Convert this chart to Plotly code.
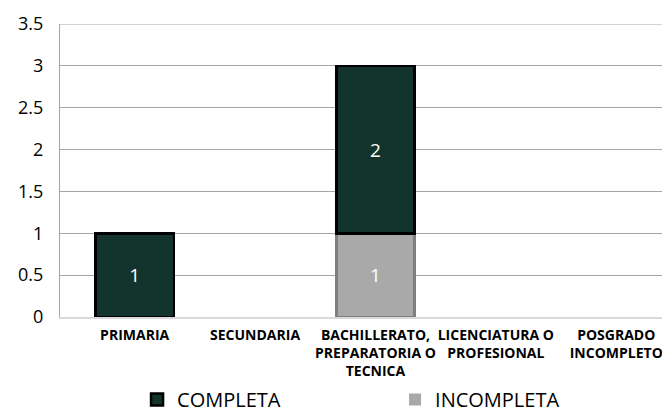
import plotly.graph_objects as go

categorias = ["PRIMARIA", "SECUNDARIA", "BACHILLERATO,<br>PREPARATORIA O<br>TECNICA",
              "LICENCIATURA O<br>PROFESIONAL", "POSGRADO<br>INCOMPLETO"]
incompleta = [0, 0, 1, 0, 0]
completa = [1, 0, 2, 0, 0]

fig = go.Figure()

# gray series sits at the bottom of the stack
fig.add_trace(go.Bar(
    x=categorias, y=incompleta, name="INCOMPLETA",
    marker=dict(color="#A9A9A9",
                line=dict(color="#7F7F7F", width=[3 if v else 0 for v in incompleta])),
    text=incompleta, textposition="inside", insidetextanchor="middle",
    textfont=dict(color="white", size=19, family="Open Sans"),
    width=0.65,
))
fig.add_trace(go.Bar(
    x=categorias, y=completa, name="COMPLETA",
    marker=dict(color="#13342C",
                line=dict(color="black", width=[2.5 if v else 0 for v in completa])),
    text=completa, textposition="inside", insidetextanchor="middle",
    textfont=dict(color="white", size=19, family="Open Sans"),
    width=0.65,
))

fig.update_layout(
    barmode="stack",
    width=662, height=419,
    margin=dict(l=60, r=0, t=24, b=102),
    plot_bgcolor="white", paper_bgcolor="white",
    font=dict(family="Open Sans", color="black"),
    legend=dict(orientation="h", x=0.128, xanchor="left",
                yref="container", y=-0.02, yanchor="bottom",
                traceorder="reversed", font=dict(size=20), itemwidth=30,
                entrywidthmode="pixels", entrywidth=213),
    uniformtext=dict(minsize=8),
)
fig.update_xaxes(
    range=[-0.62, 4.38], showgrid=False, ticks="", automargin=False,
    showline=True, linecolor="#D9D9D9", linewidth=2,
    tickfont=dict(size=14, family="Open Sans", color="black", weight="bold"),
    ticklabelstandoff=4, tickangle=0,
)
fig.update_yaxes(
    range=[0, 3.5], dtick=0.5, showgrid=True, gridcolor="#A6A6A6", gridwidth=1,
    showline=True, linecolor="#A6A6A6", zeroline=False, automargin=False,
    tickfont=dict(size=18), ticks="", ticklabelstandoff=12,
)
# top border line at 3.5
fig.add_hline(y=3.5, line=dict(color="#A6A6A6", width=1))

fig.write_html("out.html", config={"displayModeBar": False},
               post_script="document.body.style.margin='0';")
